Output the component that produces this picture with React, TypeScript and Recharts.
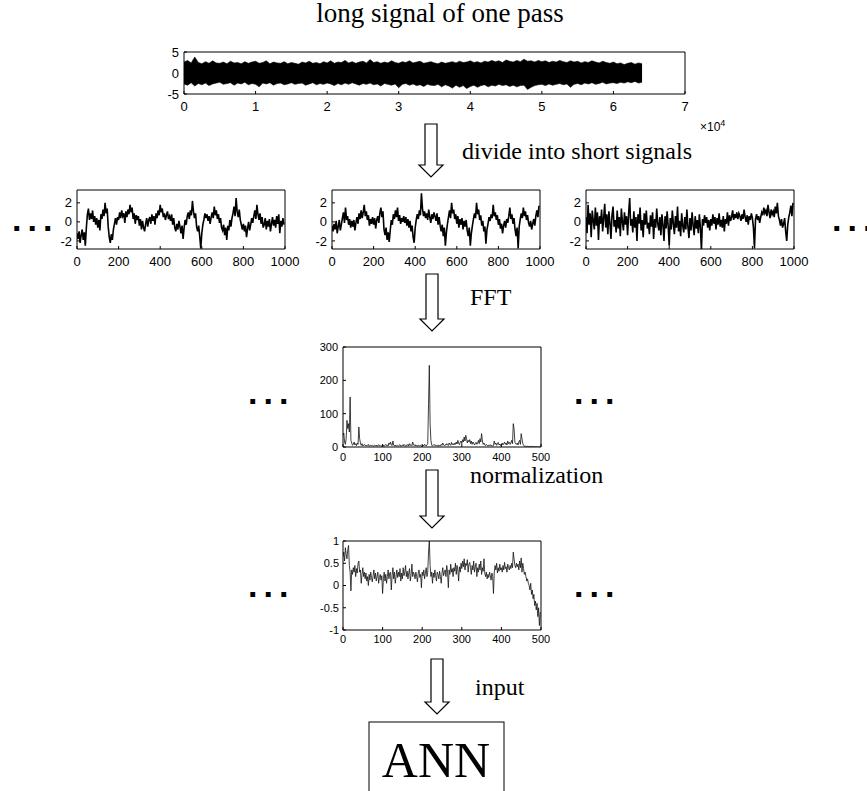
import React from 'react';
import { ComposedChart, Line, Area, XAxis, YAxis } from 'recharts';

const SANS = "'Liberation Sans', Arial, sans-serif";
const SERIF = "'Liberation Serif', 'Times New Roman', serif";

// ---- tick labels ----
const topXTicks = [0, 10000, 20000, 30000, 40000, 50000, 60000, 70000];
const topYTicks = [-5, 0, 5];
const shortXTicks = [0, 200, 400, 600, 800, 1000];
const shortYTicks = [-2, 0, 2];
const fftXTicks = [0, 100, 200, 300, 400, 500];
const fftYTicks = [0, 100, 200, 300];
const normXTicks = [0, 100, 200, 300, 400, 500];
const normYTicks = [-1, -0.5, 0, 0.5, 1];

// ---- long signal envelope (every 500 samples, 0..64000) ----
const longUpper = [
  2.6, 3.0, 2.4, 3.8, 2.5, 2.2, 2.7, 2.3, 2.9, 2.4,
  2.3, 2.6, 2.2, 2.8, 2.4, 2.5, 2.2, 2.7, 2.3, 2.6,
  2.8, 2.3, 2.5, 2.9, 2.2, 2.6, 2.4, 2.3, 2.7, 2.2,
  2.5, 2.3, 2.1, 2.6, 2.4, 2.8, 2.3, 2.5, 2.2, 2.7,
  2.4, 2.9, 2.3, 2.6, 2.5, 3.0, 2.4, 2.7, 2.3, 2.6,
  2.8, 2.4, 3.2, 2.5, 2.7, 2.3, 2.6, 2.4, 2.9, 2.5,
  2.3, 2.7, 2.5, 2.9, 2.4, 2.6, 2.8, 2.3, 2.5, 2.7,
  2.4, 2.2, 2.6, 2.3, 2.5, 2.7, 2.4, 2.8, 2.5, 2.6,
  2.9, 2.5, 2.7, 2.4, 2.8, 2.6, 3.0, 2.7, 2.9, 2.5,
  3.1, 2.8, 2.6, 3.0, 2.7, 3.3, 2.8, 2.9, 2.6, 3.0,
  2.7, 2.9, 2.5, 2.8, 2.6, 3.0, 2.7, 2.5, 2.9, 2.6,
  2.8, 2.4, 2.7, 2.5, 2.9, 2.6, 2.4, 2.8, 2.5, 2.3,
  2.6, 2.2, 2.4, 2.0, 2.3, 2.5, 2.1, 2.4, 2.2,
];
const longLower = [
  -2.6, -2.9, -2.3, -3.1, -2.5, -2.8, -2.4, -3.0, -2.6, -2.4,
  -2.2, -2.7, -2.5, -2.3, -2.9, -2.4, -2.6, -2.2, -2.8, -2.5,
  -2.7, -3.3, -2.4, -2.6, -2.3, -2.9, -2.5, -2.4, -2.8, -2.6,
  -2.3, -2.7, -2.5, -2.4, -2.9, -2.6, -2.3, -2.8, -2.5, -2.7,
  -2.4, -2.6, -3.0, -2.5, -2.8, -2.4, -2.7, -2.3, -2.6, -2.9,
  -2.5, -2.7, -2.4, -2.8, -2.6, -3.1, -2.5, -2.7, -2.9, -2.6,
  -3.5, -2.7, -2.5, -2.9, -2.6, -3.0, -2.8, -3.2, -2.7, -2.9,
  -3.0, -2.7, -3.3, -2.8, -3.1, -3.6, -2.9, -3.4, -3.0, -3.7,
  -3.2, -2.9, -3.4, -3.0, -2.8, -3.3, -2.9, -3.1, -2.7, -3.0,
  -2.8, -3.2, -2.9, -3.3, -3.0, -2.9, -3.9, -3.4, -3.0, -2.8,
  -2.7, -3.0, -2.6, -2.9, -2.7, -2.5, -2.8, -2.6, -3.4, -2.7,
  -2.5, -2.8, -2.4, -2.6, -2.3, -2.7, -2.5, -2.2, -2.6, -2.4,
  -2.3, -2.5, -2.2, -2.4, -2.1, -2.3, -2.0, -2.4, -2.2,
];

// ---- short signals (every 5 samples, 0..995) ----
const shortA = [
  -1.2, -1.8, -1.0, -2.2, -1.4, -0.8, -1.9, -1.1, -2.5, -0.6,
  0.8, 1.4, 0.2, 0.9, 0.3, 1.2, 0.0, 0.6, -0.3, 0.4,
  -0.6, 0.2, -0.9, 0.8, 0.3, 1.3, 0.6, 2.0, 0.9, 1.4,
  -0.5, -1.6, -2.2, -1.3, -1.9, -0.8, -0.2, 0.4, -0.3, 0.5,
  0.2, 1.0, 0.4, 1.2, 0.6, 0.9, -0.1, 1.1, 0.5, 1.3,
  0.8, 1.8, 1.0, 1.5, 0.3, 0.9, -0.2, 0.7, 0.2, 0.6,
  -0.4, 0.3, -0.8, 0.1, -0.6, -1.0, -0.2, 0.4, -0.5, 0.2,
  0.5, -0.2, 0.8, 0.1, 0.6, -0.3, 0.9, 0.4, 1.2, 0.7,
  1.8, 1.0, 1.4, 0.5, 0.9, 0.2, 0.7, 1.1, 0.3, 0.6,
  0.1, 0.8, -0.3, 0.4, -0.6, -1.0, -0.2, -0.8, 0.1, -0.5,
  -1.2, -0.4, -1.8, -0.6, 0.2, -0.3, 0.6, 1.0, 0.3, 1.2,
  0.7, 2.2, 1.1, 0.4, 0.9, -0.5, -1.0, -0.4, -1.5, -2.8,
  -1.2, -0.3, 0.2, 0.9, 0.4, 0.8, 0.1, 0.6, -0.2, 0.5,
  1.0, 0.4, 1.6, 0.7, 1.2, 0.3, 0.8, -0.1, 0.4, -0.6,
  -0.9, -0.3, -1.4, -0.6, -1.9, -0.4, -0.9, 0.2, -0.5, 0.4,
  0.9, 1.6, 0.6, 2.5, 1.1, 0.5, 1.3, 0.2, -0.3, -0.8,
  -0.2, -1.0, -0.4, -1.6, -0.7, 0.0, -0.9, -0.3, 0.4, -0.1,
  0.6, 1.2, 0.3, 1.8, 0.8, 0.2, 0.9, -0.2, 0.5, -0.6,
  -0.3, 0.4, -0.8, 0.1, -0.5, 0.3, -1.0, -0.2, 0.5, -0.4,
  0.2, -0.6, 0.6, -0.2, 0.8, -1.2, 0.1, -0.5, 0.4, -0.3,
];
const shortB = [
  -0.4, -1.0, -0.2, -0.8, 0.1, -1.2, -0.5, 0.2, -0.9, -0.3,
  0.4, 1.0, -0.1, 1.5, 0.2, 0.6, -0.3, 0.3, -0.6, 0.1,
  -0.5, 0.2, -0.9, -0.1, 0.5, -0.2, 0.9, 0.3, 1.2, 0.4,
  1.0, 1.8, 0.6, 1.1, 0.2, 0.7, -0.4, 0.3, -0.2, 0.5,
  -0.3, 0.4, -0.7, 0.2, 0.6, -0.1, 0.9, 1.5, 0.5, 1.1,
  -0.8, -1.4, -0.6, -1.9, -1.1, -2.1, -0.9, 0.2, -0.3, 0.8,
  0.3, 1.2, 0.5, 1.5, 0.1, 0.7, -0.2, 0.4, 0.0, 0.6,
  -0.1, 0.5, -0.4, 0.3, -0.6, 0.1, -1.0, -0.4, -1.6, -2.2,
  -0.6, 0.2, 0.8, 0.3, 1.2, 0.7, 3.0, 1.4, 0.6, 1.1,
  0.4, 0.9, 0.2, 1.3, 0.5, -0.1, 0.8, 0.3, 1.0, 0.6,
  0.1, 0.9, -0.3, 0.5, -0.4, -1.0, -0.3, -1.5, -0.6, -2.5,
  -1.1, -0.2, 0.5, 1.2, 0.4, 2.0, 0.9, 1.3, 0.3, 0.8,
  -0.2, 0.6, -0.6, 0.3, -0.3, 0.4, -0.8, 0.1, -0.5, 0.2,
  -0.9, -1.5, -0.6, -2.5, -1.2, -0.4, 0.3, 0.9, 0.4, 2.0,
  0.8, 1.3, 0.2, 0.7, -0.4, 0.1, -1.0, -0.5, -2.3, -0.8,
  -0.2, 0.5, 0.1, 0.8, 0.4, 1.8, 0.6, 1.0, 0.2, 0.7,
  -0.3, 0.3, -0.7, -0.2, -1.2, -0.4, 0.1, -0.6, 0.3, -0.1,
  0.6, 1.5, 0.3, 0.8, -0.2, 0.4, -0.8, -1.5, -0.6, -2.8,
  -0.5, 0.3, 0.9, 0.4, 1.5, 0.6, 1.1, 0.2, 0.7, -0.1,
  -0.5, 0.1, -0.8, -0.2, 0.3, -0.4, 0.6, 1.2, 0.5, 1.7,
];
const shortC = [
  0.5, -1.2, 1.8, -0.3, 0.9, -1.6, 1.2, 0.1, -0.8, 1.5,
  -0.4, 1.0, -1.9, 0.6, -0.2, 1.3, -1.0, 0.4, 1.9, -0.6,
  0.8, -1.3, 1.1, -0.1, -1.8, 0.7, 1.6, -0.5, 0.2, -1.1,
  1.2, -0.7, 0.5, -1.5, 1.4, 0.0, -0.9, 1.0, -0.3, 0.6,
  -1.4, 0.9, 2.5, -0.4, 0.3, -1.1, 1.1, -0.6, 0.5, -2.0,
  0.8, -0.2, 1.5, -0.9, 0.2, -1.6, 0.9, -0.3, 1.2, -0.7,
  -0.1, -1.3, 0.7, -0.5, 1.0, -1.8, 0.3, -0.6, 1.4, -0.2,
  -0.9, 0.5, -1.4, 0.8, -0.3, -2.0, 0.6, -0.7, 1.1, -0.4,
  -2.5, 0.4, -0.8, 1.2, -0.2, -1.3, 0.6, -0.6, 1.6, -1.0,
  0.1, -1.5, 0.9, -0.4, -1.1, 0.5, -0.8, 1.3, -0.5, -1.7,
  0.4, -0.9, 1.0, -0.3, -1.4, 0.6, -0.7, 0.2, -1.2, 0.8,
  -0.6, -3.0, 0.3, -0.4, 0.7, -0.1, 0.5, -0.6, 0.2, -0.9,
  0.3, -0.4, 0.8, -0.2, 0.5, -0.8, 0.4, -0.3, 0.9, -0.5,
  0.2, -0.6, 0.6, -1.0, 0.3, -0.2, 1.0, -0.4, 0.7, 0.1,
  0.5, 1.2, 0.2, 0.8, 0.4, 1.0, 0.3, 0.9, 0.6, 0.1,
  0.8, 0.3, 1.3, 0.5, 0.0, 0.7, -0.3, 0.6, 0.2, 0.9,
  0.4, -0.6, -2.8, 0.3, 0.8, 0.2, 0.6, -0.1, 0.5, 1.0,
  0.7, 1.5, 0.9, 1.2, 0.6, 1.8, 1.0, 0.4, 1.3, 0.8,
  1.1, 0.5, 1.6, 0.9, 2.0, 0.6, 0.2, -0.4, 0.3, -0.6,
  -0.2, 0.4, -1.0, -2.0, -0.3, 0.5, 1.0, 1.7, 0.6, 2.0,
];

// ---- FFT magnitude (every 2 bins, 0..498) ----
const fftMag = [
  35, 42, 15, 8, 25, 80, 55, 70, 45, 150,
  20, 12, 5, 8, 15, 6, 10, 4, 12, 8,
  60, 25, 12, 5, 10, 3, 6, 8, 4, 6,
  3, 5, 8, 2, 4, 6, 3, 5, 2, 4,
  5, 3, 6, 2, 4, 7, 3, 5, 2, 4,
  3, 6, 2, 5, 8, 4, 6, 3, 12, 8,
  15, 6, 4, 18, 5, 3, 6, 2, 4, 5,
  3, 5, 7, 2, 4, 6, 3, 8, 5, 2,
  6, 4, 8, 3, 10, 5, 7, 4, 15, 6,
  4, 7, 3, 5, 2, 6, 4, 3, 5, 2,
  4, 6, 3, 8, 5, 3, 6, 10, 130, 245,
  70, 20, 6, 3, 5, 8, 4, 6, 3, 5,
  2, 6, 4, 3, 8, 5, 12, 6, 4, 7,
  5, 10, 6, 4, 12, 8, 5, 14, 7, 10,
  6, 12, 8, 15, 9, 20, 11, 7, 14, 18,
  10, 22, 15, 30, 18, 35, 25, 12, 20, 15,
  22, 10, 18, 8, 15, 12, 6, 10, 14, 8,
  12, 20, 10, 25, 15, 40, 18, 8, 12, 6,
  4, 8, 5, 3, 6, 4, 7, 3, 5, 2,
  6, 18, 8, 12, 5, 10, 14, 6, 9, 4,
  8, 12, 6, 10, 15, 8, 12, 6, 18, 10,
  14, 8, 12, 20, 10, 70, 55, 15, 10, 8,
  12, 6, 15, 20, 8, 40, 25, 10, 5, 3,
  2, 3, 1, 2, 1, 2, 1, 1, 2, 1,
  1, 1, 0.5, 1, 0.5, 0.5, 0.3, 0.5, 0.2, 0.1,
];

// ---- normalized spectrum (every 2 bins, 0..498) ----
const normVals = [
  0.65, 0.75, 0.55, 0.85, 0.7, 0.6, 0.8, 0.9, 0.45, 0.3,
  -0.12, 0.35, 0.25, 0.4, 0.3, 0.45, 0.2, 0.38, 0.28, 0.5,
  0.55, 0.3, 0.35, 0.05, 0.25, 0.4, 0.2, 0.3, 0.15, 0.28,
  0.1, 0.2, 0.0, 0.25, 0.12, 0.3, 0.18, 0.08, 0.22, 0.35,
  0.15, 0.28, 0.1, 0.2, 0.3, 0.05, 0.18, 0.25, 0.12, 0.22,
  -0.18, 0.15, 0.3, 0.1, 0.25, 0.05, 0.2, 0.35, 0.15, 0.28,
  0.3, -0.1, 0.22, 0.4, 0.15, 0.3, 0.05, 0.2, 0.35, 0.18,
  0.3, 0.2, 0.38, 0.1, 0.28, 0.15, 0.4, 0.22, 0.3, 0.45,
  0.2, 0.32, 0.15, 0.28, 0.38, 0.1, 0.25, 0.48, 0.2, 0.3,
  0.25, 0.15, 0.3, 0.2, 0.08, 0.28, 0.35, 0.18, 0.25, -0.05,
  0.3, 0.22, 0.35, 0.15, 0.28, 0.4, 0.2, 0.3, 0.75, 1.0,
  0.45, 0.2, 0.3, 0.05, 0.28, 0.18, 0.35, 0.22, 0.1, 0.3,
  0.25, 0.15, 0.32, 0.2, 0.05, 0.28, 0.4, 0.22, 0.3, 0.35,
  0.2, 0.45, 0.3, -0.05, 0.35, 0.25, 0.48, 0.3, 0.38, 0.2,
  0.4, 0.32, 0.5, 0.25, 0.45, 0.35, 0.1, 0.42, 0.3, 0.5,
  0.38, 0.55, 0.42, 0.6, 0.35, 0.5, 0.45, 0.58, 0.3, 0.48,
  0.52, 0.4, 0.25, 0.45, 0.35, 0.55, 0.3, 0.42, 0.5, 0.2,
  0.4, 0.3, 0.48, 0.35, 0.55, 0.25, 0.4, 0.32, 0.6, 0.28,
  0.2, 0.3, 0.15, 0.25, 0.18, 0.3, 0.22, 0.12, 0.28, 0.2,
  -0.18, 0.3, 0.45, 0.35, 0.5, 0.28, 0.4, 0.32, 0.48, 0.35,
  0.4, 0.3, 0.45, 0.35, 0.52, 0.38, 0.42, 0.3, 0.48, 0.4,
  0.35, 0.45, 0.38, 0.5, 0.4, 0.75, 0.6, 0.45, 0.4, 0.5,
  0.42, 0.48, 0.35, 0.55, 0.4, 0.62, 0.3, 0.5, 0.38, 0.25,
  0.3, 0.2, 0.1, 0.15, 0.05, 0.0, -0.1, 0.05, -0.2, -0.1,
  -0.3, -0.2, -0.45, -0.35, -0.55, -0.4, -0.7, -0.5, -0.9, -0.6,
];

// ---- tables for the library ----
const longData = longUpper.map((u, i) => ({ x: i * 500, band: [longLower[i], u] }));
const toSeries = (arr: number[], step: number) => arr.map((v, i) => ({ x: i * step, v }));
const dataA = toSeries(shortA, 5);
const dataB = toSeries(shortB, 5);
const dataC = toSeries(shortC, 5);
const dataFFT = toSeries(fftMag, 2);
const dataNorm = toSeries(normVals, 2);

type PanelProps = {
  left: number; top: number; w: number; h: number;
  data: any[];
  xDomain: [number, number]; xTicks: number[];
  yDomain: [number, number]; yTicks: number[];
  fs: number; xGap: number; yGap: number;
  xFmt?: (v: number) => string;
  children?: React.ReactNode;
};

function Panel(p: PanelProps) {
  const YW = 44;
  const XH = 26;
  const MT = 10;
  const MR = 20;
  const tickStyle = { fontSize: p.fs, fill: '#000', fontFamily: SANS };
  return (
    <div style={{ position: 'absolute', left: p.left - YW, top: p.top - MT - 1 }}>
      <ComposedChart
        width={YW + p.w + MR + 1}
        height={MT + 1 + p.h + XH}
        data={p.data}
        margin={{ top: MT, right: MR, bottom: 0, left: 0 }}
      >
        <XAxis xAxisId="b" dataKey="x" type="number" domain={p.xDomain} ticks={p.xTicks}
          allowDataOverflow interval={0} height={XH} tickSize={-3} tickMargin={3 + p.xGap}
          tick={tickStyle} tickFormatter={p.xFmt} stroke="#000" />
        <XAxis xAxisId="t" orientation="top" dataKey="x" type="number" domain={p.xDomain}
          ticks={p.xTicks} allowDataOverflow interval={0} height={1} tickSize={-3}
          tick={false} stroke="#000" />
        <YAxis yAxisId="l" type="number" domain={p.yDomain} ticks={p.yTicks} allowDataOverflow
          interval={0} width={YW} tickSize={-3} tickMargin={3 + p.yGap} tick={tickStyle}
          stroke="#000" />
        <YAxis yAxisId="r" orientation="right" type="number" domain={p.yDomain} ticks={p.yTicks}
          allowDataOverflow interval={0} width={1} tickSize={-3} tick={false} stroke="#000" />
        {p.children}
      </ComposedChart>
    </div>
  );
}

function Arrow({ cx, y0, y1 }: { cx: number; y0: number; y1: number }) {
  const yh = y1 - 12;
  const d = `M${cx - 6},${y0} L${cx + 6},${y0} L${cx + 6},${yh} L${cx + 12},${yh} L${cx},${y1} L${cx - 12},${yh} L${cx - 6},${yh} Z`;
  return <path d={d} fill="#fff" stroke="#000" strokeWidth={1.2} />;
}

function Dots({ x, y }: { x: number; y: number }) {
  return (
    <text x={x} y={y} fontFamily={SANS} fontWeight="bold" fontSize={34} letterSpacing={6} fill="#000">...</text>
  );
}

export default function App() {
  const shortPanels = [
    { left: 77, data: dataA },
    { left: 332, data: dataB },
    { left: 586, data: dataC },
  ];
  return (
    <div style={{ position: 'absolute', left: 0, top: 0, width: 867, height: 791, overflow: 'hidden', background: '#fff' }}>
      <Panel left={184} top={52} w={501} h={42} data={longData}
        xDomain={[0, 70000]} xTicks={topXTicks} yDomain={[-5, 5]} yTicks={topYTicks}
        fs={13} xGap={8} yGap={5} xFmt={(v: number) => String(v / 10000)}>
        <Area xAxisId="b" yAxisId="l" dataKey="band" type="linear" stroke="#000" strokeWidth={0.6}
          fill="#000" fillOpacity={1} isAnimationActive={false} dot={false} activeDot={false} />
      </Panel>

      {shortPanels.map((s, i) => (
        <Panel key={i} left={s.left} top={190} w={208} h={59} data={s.data}
          xDomain={[0, 1000]} xTicks={shortXTicks} yDomain={[-2.85, 3.35]} yTicks={shortYTicks}
          fs={13} xGap={8} yGap={5}>
          <Line xAxisId="b" yAxisId="l" dataKey="v" type="linear" stroke="#000" strokeWidth={1.6}
            dot={false} activeDot={false} isAnimationActive={false} />
        </Panel>
      ))}

      <Panel left={343} top={347} w={198} h={100} data={dataFFT}
        xDomain={[0, 500]} xTicks={fftXTicks} yDomain={[0, 300]} yTicks={fftYTicks}
        fs={11} xGap={6} yGap={5}>
        <Line xAxisId="b" yAxisId="l" dataKey="v" type="linear" stroke="#111" strokeWidth={0.8}
          dot={false} activeDot={false} isAnimationActive={false} />
      </Panel>

      <Panel left={343} top={541} w={198} h={89} data={dataNorm}
        xDomain={[0, 500]} xTicks={normXTicks} yDomain={[-1, 1]} yTicks={normYTicks}
        fs={11} xGap={5} yGap={4}>
        <Line xAxisId="b" yAxisId="l" dataKey="v" type="linear" stroke="#111" strokeWidth={0.8}
          dot={false} activeDot={false} isAnimationActive={false} />
      </Panel>

      <svg width={867} height={791} style={{ position: 'absolute', left: 0, top: 0, pointerEvents: 'none' }}>
        <text x={440} y={22} textAnchor="middle" fontFamily={SERIF} fontSize={27} fill="#000">long signal of one pass</text>
        <text x={700} y={131} fontFamily={SANS} fontSize={12} fill="#000">×10<tspan dy={-5} fontSize={9}>4</tspan></text>

        <Arrow cx={431} y0={124} y1={177} />
        <text x={462} y={159} fontFamily={SERIF} fontSize={24} fill="#000">divide into short signals</text>

        <Dots x={12} y={231} />
        <Dots x={832} y={231} />

        <Arrow cx={432} y0={274} y1={331} />
        <text x={470} y={305} fontFamily={SERIF} fontSize={24} fill="#000">FFT</text>

        <Dots x={248} y={404} />
        <Dots x={574} y={404} />

        <Arrow cx={432} y0={470} y1={528} />
        <text x={470} y={483} fontFamily={SERIF} fontSize={24} fill="#000">normalization</text>

        <Dots x={248} y={597} />
        <Dots x={574} y={597} />

        <Arrow cx={437} y0={659} y1={714} />
        <text x={475} y={695} fontFamily={SERIF} fontSize={24} fill="#000">input</text>

        <rect x={369} y={722} width={135} height={100} fill="none" stroke="#000" strokeWidth={1} />
        <text x={436} y={777} textAnchor="middle" fontFamily={SERIF} fontSize={50} fill="#000">ANN</text>
      </svg>
    </div>
  );
}
